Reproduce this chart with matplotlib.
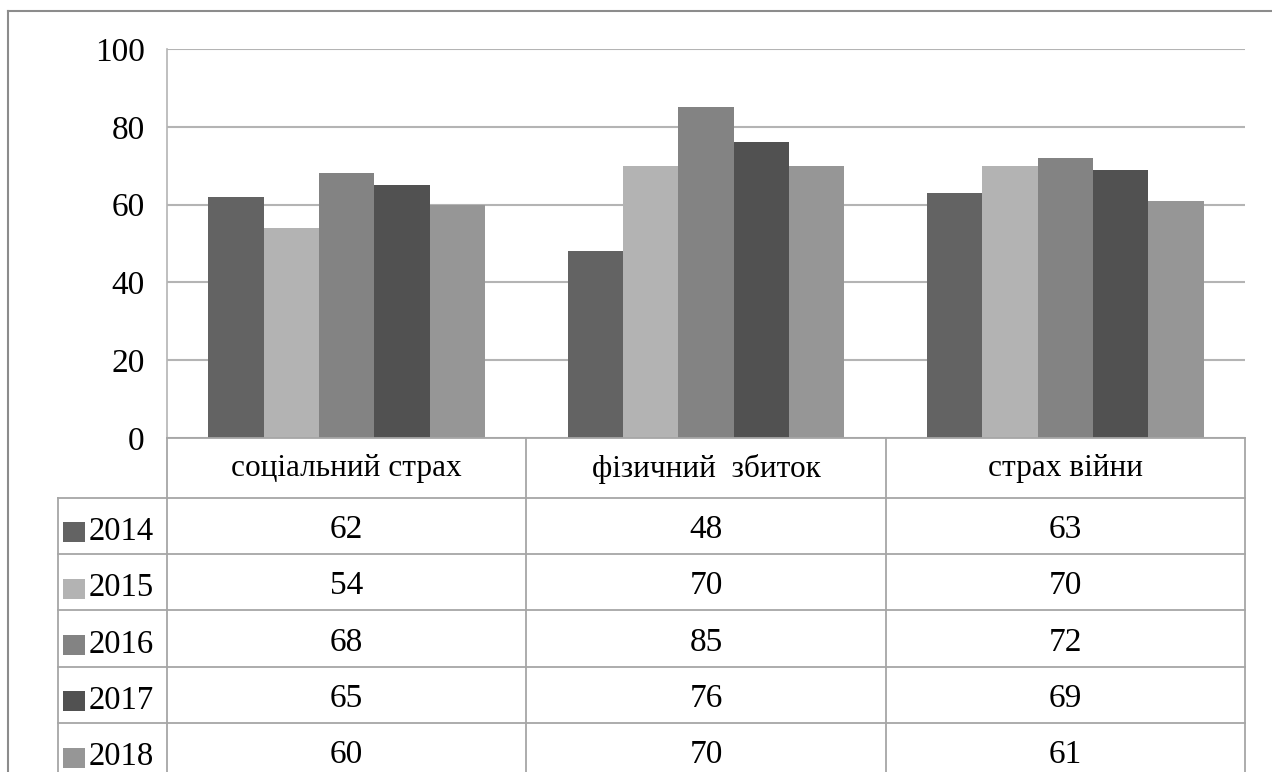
import matplotlib
matplotlib.use("Agg")
import matplotlib.pyplot as plt
from matplotlib.patches import Rectangle
from matplotlib.lines import Line2D

categories = ["соціальний страх", "фізичний  збиток", "страх війни"]
years = ["2014", "2015", "2016", "2017", "2018"]
values_2014 = [62, 48, 63]
values_2015 = [54, 70, 70]
values_2016 = [68, 85, 72]
values_2017 = [65, 76, 69]
values_2018 = [60, 70, 61]
series = [values_2014, values_2015, values_2016, values_2017, values_2018]
colors = ["#636363", "#b3b3b3", "#838383", "#515151", "#969696"]
y_ticks = [0, 20, 40, 60, 80, 100]

plt.rcParams["font.family"] = ["Liberation Serif", "DejaVu Serif"]

W, H = 1272, 772
fig = plt.figure(figsize=(W / 100, H / 100), dpi=100)

# plot area in pixel coordinates
px_l, px_r, px_t, px_b = 167, 1245, 49, 438
ax = fig.add_axes([px_l / W, 1 - px_b / H, (px_r - px_l) / W, (px_b - px_t) / H])

n = len(series)
gap = 1.5
bw = 1.0 / (n + gap)
for i, (vals, col) in enumerate(zip(series, colors)):
    xs = [c - 0.5 + bw * (gap / 2 + i) for c in range(len(categories))]
    ax.bar(xs, vals, width=bw, align="edge", color=col, zorder=3, linewidth=0)

ax.set_xlim(-0.5, len(categories) - 0.5)
ax.set_ylim(0, 100)
ax.set_yticks(y_ticks)
ax.set_xticks([])
ax.yaxis.grid(True, color="#b4b4b4", linewidth=1.5, zorder=0)
for s in ["top", "right", "bottom"]:
    ax.spines[s].set_visible(False)
ax.spines["left"].set_color("#b4b4b4")
ax.spines["left"].set_linewidth(1.2)
ax.tick_params(axis="y", length=0, pad=16, labelsize=24)

# overlay in pixel space for the data table and frame
ov = fig.add_axes([0, 0, 1, 1])
ov.set_xlim(0, W)
ov.set_ylim(H, 0)
ov.axis("off")

lc = "#a6a6a6"
lw = 1.3

# outer chart frame
ov.add_line(Line2D([8, 8], [11, H], color="#8c8c8c", lw=1.5))
ov.add_line(Line2D([8, W], [11, 11], color="#8c8c8c", lw=1.5))

col_edges = [px_l + (px_r - px_l) * k / len(categories) for k in range(len(categories) + 1)]
header_bottom = 497.7
row_h = 56.3
leg_left = 58

# horizontal lines
ov.add_line(Line2D([px_l, px_r], [px_b, px_b], color=lc, lw=lw))
for r in range(len(years)):
    y = header_bottom + r * row_h
    ov.add_line(Line2D([leg_left, px_r], [y, y], color=lc, lw=lw))
# vertical lines
for x in col_edges:
    ov.add_line(Line2D([x, x], [px_b, H], color=lc, lw=lw))
ov.add_line(Line2D([leg_left, leg_left], [header_bottom, H], color=lc, lw=lw))

# category header
for k, cat in enumerate(categories):
    cx = (col_edges[k] + col_edges[k + 1]) / 2
    ov.text(cx, (px_b + header_bottom) / 2 + 1, cat, ha="center", va="center", fontsize=22.5)

# rows
for r, (yr, vals, col) in enumerate(zip(years, series, colors)):
    cy = header_bottom + (r + 0.5) * row_h
    ov.add_patch(Rectangle((63, cy - 3.5), 22, 20, color=col, lw=0))
    ov.text(89, cy + 6, yr, ha="left", va="center", fontsize=23.5)
    for k, v in enumerate(vals):
        cx = (col_edges[k] + col_edges[k + 1]) / 2
        ov.text(cx, cy + 4, str(v), ha="center", va="center", fontsize=24)

fig.savefig("out.png", dpi=100)
